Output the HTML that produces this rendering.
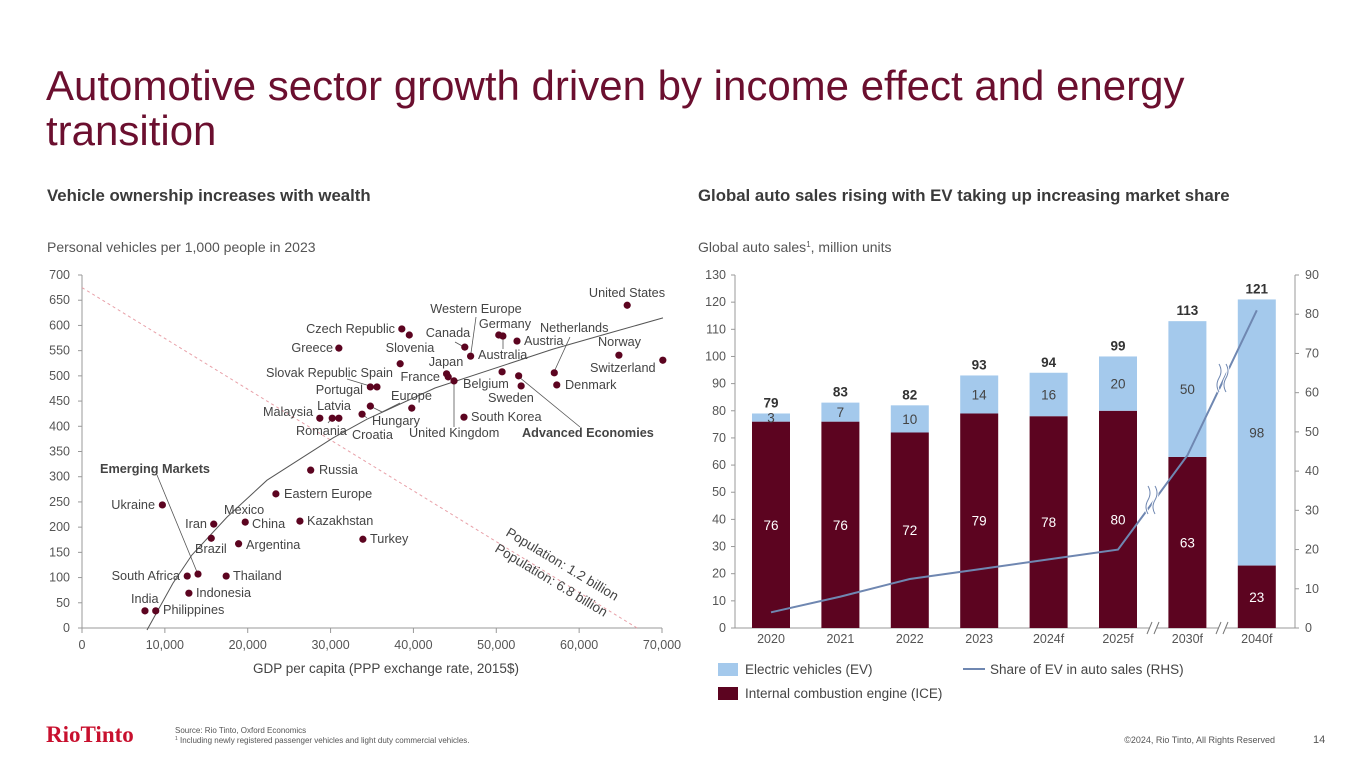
<!DOCTYPE html>
<html><head><meta charset="utf-8">
<style>
html,body{margin:0;padding:0;background:#fff;}
svg{display:block;font-family:"Liberation Sans",Arial,sans-serif;}
</style></head>
<body>
<svg id="page" width="1365" height="768" viewBox="0 0 1365 768">
  <text x="46" y="100" font-size="42" fill="#6b0f2f">Automotive sector growth driven by income effect and energy</text>
  <text x="46" y="145" font-size="42" fill="#6b0f2f">transition</text>
  <text x="47" y="201" font-size="16.8" font-weight="bold" fill="#3a3a3a">Vehicle ownership increases with wealth</text>
  <text x="698" y="201" font-size="16.8" font-weight="bold" fill="#3a3a3a">Global auto sales rising with EV taking up increasing market share</text>
  <text x="47" y="252" font-size="14" fill="#555">Personal vehicles per 1,000 people in 2023</text>
  <text x="698" y="252" font-size="14" fill="#555">Global auto sales<tspan font-size="8" dy="-5">1</tspan><tspan dy="5">, million units</tspan></text>
  <text x="386" y="673" font-size="13.5" fill="#444" text-anchor="middle">GDP per capita (PPP exchange rate, 2015$)</text>
  <g id="scatter"></g>
  <g id="bars"></g>
  <text x="46" y="742" font-size="23" fill="#c8102e" font-weight="bold" font-family="'Liberation Serif',serif">RioTinto</text>
  <text x="175" y="733" font-size="8" fill="#555">Source: Rio Tinto, Oxford Economics</text>
  <text x="175" y="743" font-size="8" fill="#555"><tspan font-size="5" dy="-3">1</tspan><tspan dy="3"> Including newly registered passenger vehicles and light duty commercial vehicles.</tspan></text>
  <text x="1275" y="743" font-size="9" fill="#555" text-anchor="end">©2024, Rio Tinto, All Rights Reserved</text>
  <text x="1313" y="743" font-size="11" fill="#555">14</text>
</svg>
<script>
// ===== Scatter data =====
const countries = ["Greece","Czech Republic","Slovenia","Italy","Slovak Republic","Spain","Portugal","Hungary","Malaysia","Latvia","Romania","Europe","Russia","Eastern Europe","Ukraine","Iran","China","Kazakhstan","Turkey","Brazil","Argentina","South Africa","Mexico","Thailand","Indonesia","India","Philippines","United States","Canada","Australia","Germany","Western Europe","Austria","Japan","France","United Kingdom","Belgium","Advanced Economies","Sweden","Netherlands","Denmark","Norway","Switzerland","South Korea"];
const gdpPerCapita = [31000,38600,39500,38400,34800,35600,34800,33800,28700,30200,31000,39800,27600,23400,9700,15900,19700,26300,33900,15600,18900,12700,14000,17400,12900,7600,8900,65800,46200,46900,50300,50800,52500,44000,44200,44900,50700,52700,53000,57000,57300,64800,70100,46100];
const vehiclesPer1000 = [555,593,581,524,478,478,440,424,416,416,416,436,313,266,244,206,210,212,176,178,167,103,107,103,69,34,34,640,557,539,581,579,569,504,498,490,508,500,480,506,482,541,531,418];
const xTicks = [0,10000,20000,30000,40000,50000,60000,70000];
const xTickLabels = ["0","10,000","20,000","30,000","40,000","50,000","60,000","70,000"];
const yTicks = [0,50,100,150,200,250,300,350,400,450,500,550,600,650,700];
const trendGdp = [7850,10980,13280,17500,22330,30290,34400,42600,56850,64090,70120];
const trendVeh = [-4,89,145,220,293,377,414,476,553,587,615];
const popLineGdp = [0,67000];
const popLineVeh = [675,0];

const NS="http://www.w3.org/2000/svg";
function mk(tag, attrs, parent){const e=document.createElementNS(NS,tag);for(const k in attrs)e.setAttribute(k,attrs[k]);parent.appendChild(e);return e;}
const sx = v => 82 + v/70000*580;
const sy = v => 628 - v/700*353;
const sc = document.getElementById('scatter');
const FS = 12.7;

let e;
e=mk('line',{x1:82,y1:275,x2:82,y2:628,stroke:'#999','stroke-width':1},sc);


e=mk('line',{x1:82,y1:628,x2:662,y2:628,stroke:'#999','stroke-width':1},sc);


yTicks.forEach(t=>{
  mk('line',{x1:78,y1:sy(t),x2:82,y2:sy(t),stroke:'#999'},sc);
  e=mk('text',{x:70,y:sy(t)+4,'font-size':12.5,fill:'#555','text-anchor':'end'},sc);
  e.textContent=t;
  
  
});
xTicks.forEach((t,i)=>{
  mk('line',{x1:sx(t),y1:628,x2:sx(t),y2:633,stroke:'#999'},sc);
  e=mk('text',{x:sx(t),y:649,'font-size':12.5,fill:'#555','text-anchor':'middle'},sc);
  e.textContent=xTickLabels[i];
  
  
});
e=mk('line',{x1:sx(popLineGdp[0]),y1:sy(popLineVeh[0]),x2:sx(popLineGdp[1]),y2:sy(popLineVeh[1]),stroke:'#e8a0a8','stroke-width':1,'stroke-dasharray':'3,3'},sc);


e=mk('text',{x:0,y:0,'font-size':13.5,fill:'#444',transform:'translate(505,535) rotate(31)'},sc);
e.textContent='Population: 1.2 billion';


e=mk('text',{x:0,y:0,'font-size':13.5,fill:'#444',transform:'translate(494,551) rotate(31)'},sc);
e.textContent='Population: 6.8 billion';


let d=trendGdp.map((g,i)=>(i?'L':'M')+sx(g).toFixed(1)+','+sy(trendVeh[i]).toFixed(1)).join(' ');
e=mk('path',{d:d,fill:'none',stroke:'#555','stroke-width':1},sc);


const leaders=[[476,317,471,353],[455,342,464,347],[503,338,503,349],[570,337,554,372],[454,382,454,427],[519,377,580,427],[157,475,197,572],[370,406,382,412],[382,412,400,403],[328,423,332,418],[367,418,362,414],[347,379,370,386]];
leaders.forEach(l=>{
  e=mk('line',{x1:l[0],y1:l[1],x2:l[2],y2:l[3],stroke:'#555','stroke-width':0.8},sc);
  
  
});
countries.forEach((c,i)=>{
  e=mk('circle',{cx:sx(gdpPerCapita[i]),cy:sy(vehiclesPer1000[i]),r:3.6,fill:'#5c0420'},sc);
  
  
});
const labels=[["United States",627,297,"middle"],["Czech Republic",395,333,"end"],["Greece",333,352,"end"],["Slovenia",410,352,"middle"],["Western Europe",476,313,"middle"],["Germany",505,328,"middle"],["Canada",448,337,"middle"],["Netherlands",540,332,"start"],["Austria",524,345,"start"],["Australia",478,359,"start"],["Norway",598,346,"start"],["Japan",446,366,"middle"],["Switzerland",590,372,"start"],["Slovak Republic Spain",266,377,"start"],["France",440,381,"end"],["Belgium",463,388,"start"],["Denmark",565,389,"start"],["Portugal",363,394,"end"],["Europe",391,400,"start"],["Sweden",488,402,"start"],["Latvia",334,410,"middle"],["Malaysia",313,416,"end"],["South Korea",471,421,"start"],["Hungary",372,425,"start"],["Romania",296,435,"start"],["Croatia",352,439,"start"],["United Kingdom",409,437,"start"],["Russia",319,474,"start"],["Eastern Europe",284,498,"start"],["Ukraine",155,509,"end"],["Mexico",224,514,"start"],["Iran",207,528,"end"],["China",252,528,"start"],["Kazakhstan",307,525,"start"],["Turkey",370,543,"start"],["Brazil",195,553,"start"],["Argentina",246,549,"start"],["South Africa",180,580,"end"],["Thailand",233,580,"start"],["Indonesia",196,597,"start"],["India",131,603,"start"],["Philippines",163,614,"start"]];
labels.forEach(l=>{
  e=mk('text',{x:l[1],y:l[2],'font-size':FS,fill:'#444','text-anchor':l[3]},sc);
  e.textContent=l[0];
  
  
});
e=mk('text',{x:522,y:437,'font-size':FS,'font-weight':'bold',fill:'#444'},sc);
e.textContent='Advanced Economies';


e=mk('text',{x:100,y:473,'font-size':FS,'font-weight':'bold',fill:'#444'},sc);
e.textContent='Emerging Markets';


</script>
<script>
// ===== Bar chart data =====
const years = ["2020","2021","2022","2023","2024f","2025f","2030f","2040f"];
const iceSales = [76,76,72,79,78,80,63,23];
const evSales = [3,7,10,14,16,20,50,98];
const totalSales = [79,83,82,93,94,99,113,121];
const evShare = [4,8,12.5,15,17.5,20,44,81];
const leftTicks = [0,10,20,30,40,50,60,70,80,90,100,110,120,130];
const rightTicks = [0,10,20,30,40,50,60,70,80,90];

(function(){
const NS="http://www.w3.org/2000/svg";
function mk(tag, attrs, parent){const e=document.createElementNS(NS,tag);for(const k in attrs)e.setAttribute(k,attrs[k]);parent.appendChild(e);return e;}
const g=document.getElementById('bars');
const x0=771, step=69.4, bw=38;
const bx = i => x0 + i*step;
const yL = v => 628 - v/130*353;
const yR = v => 628 - v/90*353;
let e;
e=mk('line',{x1:735,y1:275,x2:735,y2:628,stroke:'#999'},g);


e=mk('line',{x1:1295,y1:275,x2:1295,y2:628,stroke:'#999'},g);


e=mk('line',{x1:735,y1:628,x2:1295,y2:628,stroke:'#999'},g);


leftTicks.forEach(t=>{
  mk('line',{x1:731,y1:yL(t),x2:735,y2:yL(t),stroke:'#999'},g);
  e=mk('text',{x:726,y:yL(t)+4,'font-size':12.5,fill:'#555','text-anchor':'end'},g);
  e.textContent=t;
  
  
});
rightTicks.forEach(t=>{
  mk('line',{x1:1295,y1:yR(t),x2:1299,y2:yR(t),stroke:'#999'},g);
  e=mk('text',{x:1305,y:yR(t)+4,'font-size':12.5,fill:'#555'},g);
  e.textContent=t;
  
  
});
years.forEach((y,i)=>{
  const cx=bx(i);
  e=mk('rect',{x:cx-bw/2,y:yL(iceSales[i]),width:bw,height:yL(0)-yL(iceSales[i]),fill:'#5c0420'},g);
  
  
  e=mk('rect',{x:cx-bw/2,y:yL(iceSales[i]+evSales[i]),width:bw,height:yL(iceSales[i])-yL(iceSales[i]+evSales[i]),fill:'#a4c9ec'},g);
  
  
  e=mk('text',{x:cx,y:(yL(0)+yL(iceSales[i]))/2+5,'font-size':13.5,fill:'#fff','text-anchor':'middle'},g);
  e.textContent=iceSales[i];
  
  
  e=mk('text',{x:cx,y:(yL(iceSales[i])+yL(iceSales[i]+evSales[i]))/2+5,'font-size':13.5,fill:'#444','text-anchor':'middle'},g);
  e.textContent=evSales[i];
  
  
  e=mk('text',{x:cx,y:yL(Math.max(totalSales[i],iceSales[i]+evSales[i]))-6,'font-size':13.5,'font-weight':'bold',fill:'#333','text-anchor':'middle'},g);
  e.textContent=totalSales[i];
  
  
  e=mk('text',{x:cx,y:643,'font-size':12.5,fill:'#555','text-anchor':'middle'},g);
  e.textContent=y;
  
  
});
const d=evShare.map((v,i)=>(i?'L':'M')+bx(i).toFixed(1)+','+yR(v).toFixed(1)).join(' ');
e=mk('path',{d:d,fill:'none',stroke:'#6f87b1','stroke-width':2},g);


[[1151,500],[1222,378]].forEach(p=>{
  e=mk('path',{d:`M${p[0]-3},${p[1]-14} q4,7 0,14 q-4,7 0,14 M${p[0]+4},${p[1]-14} q4,7 0,14 q-4,7 0,14`,fill:'none',stroke:'#fff','stroke-width':3},g);
  e=mk('path',{d:`M${p[0]-3},${p[1]-14} q4,7 0,14 q-4,7 0,14 M${p[0]+4},${p[1]-14} q4,7 0,14 q-4,7 0,14`,fill:'none',stroke:'#6f87b1','stroke-width':1},g);
  
  
});
[1153,1222].forEach(x=>{
  mk('rect',{x:x-4,y:622,width:8,height:12,fill:'#fff'},g);
  e=mk('path',{d:`M${x-6},634 L${x-1},622 M${x+1},634 L${x+6},622`,stroke:'#777','stroke-width':1,fill:'none'},g);
  
  
});
e=mk('rect',{x:718,y:663,width:20,height:13,fill:'#a4c9ec'},g);


e=mk('text',{x:745,y:674,'font-size':13.5,fill:'#444'},g);e.textContent='Electric vehicles (EV)';


e=mk('rect',{x:718,y:687,width:20,height:13,fill:'#5c0420'},g);


e=mk('text',{x:745,y:698,'font-size':13.5,fill:'#444'},g);e.textContent='Internal combustion engine (ICE)';


e=mk('line',{x1:963,y1:669,x2:985,y2:669,stroke:'#6f87b1','stroke-width':2},g);


e=mk('text',{x:990,y:674,'font-size':13.5,fill:'#444'},g);e.textContent='Share of EV in auto sales (RHS)';


})();
</script>
</body></html>
